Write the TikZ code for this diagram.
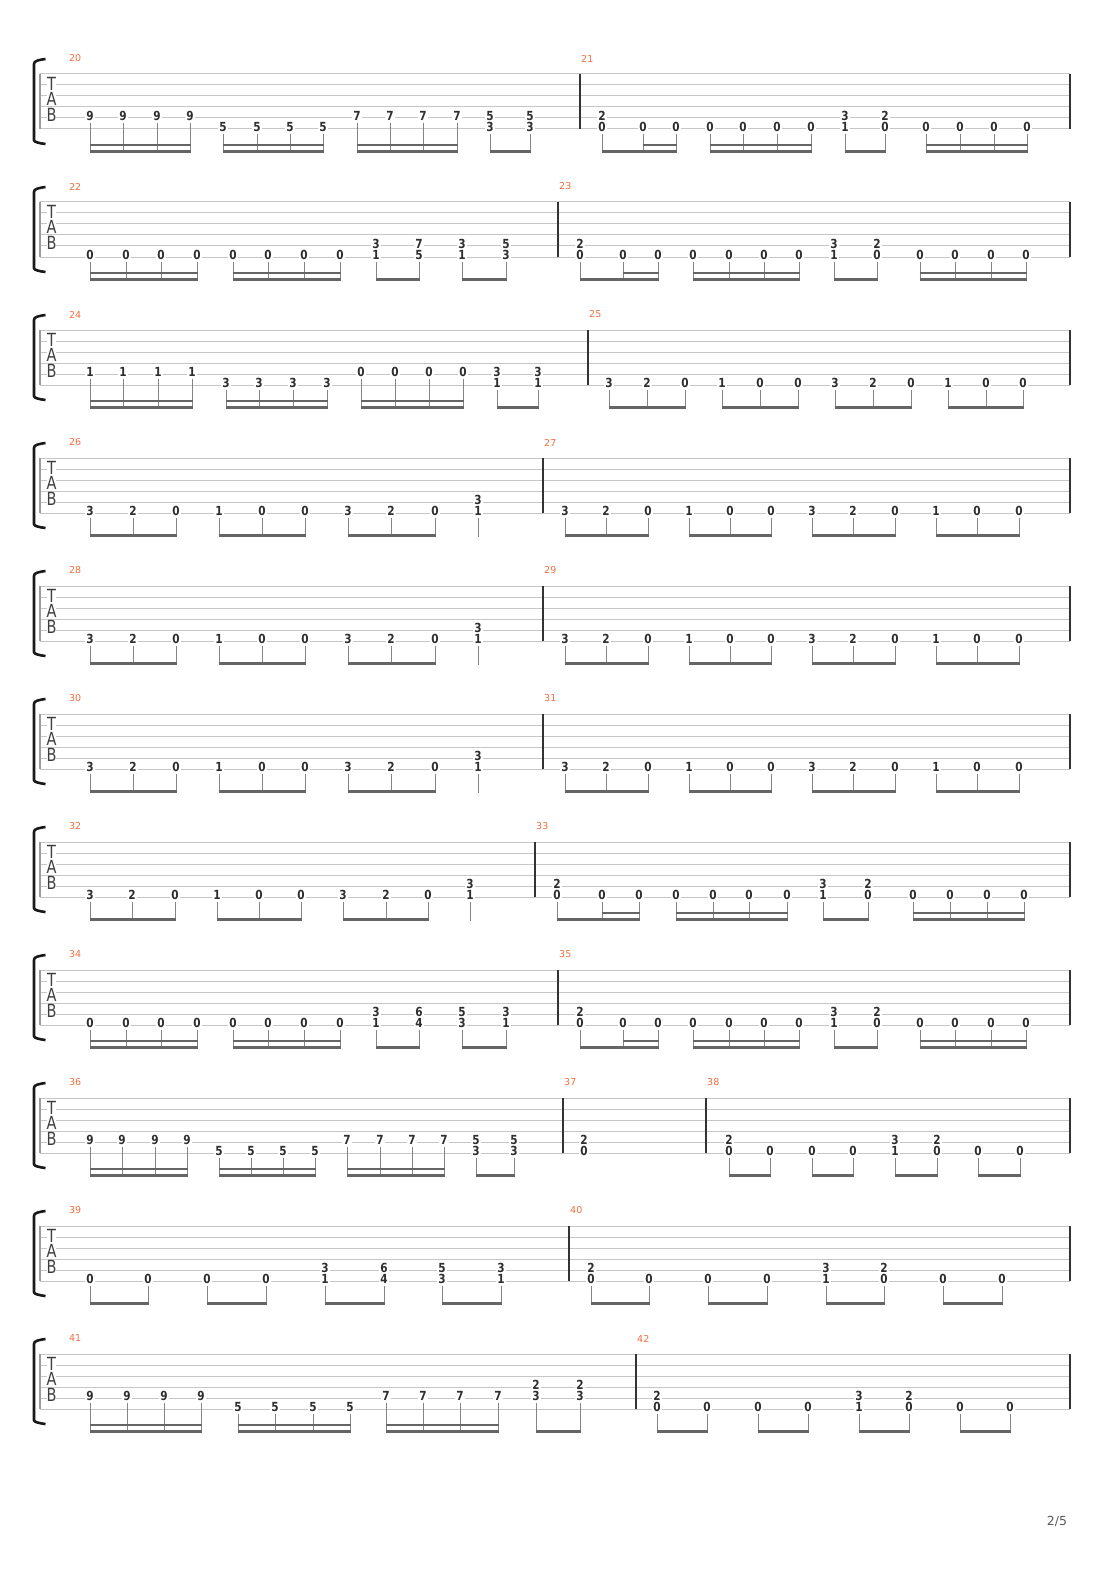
\documentclass[tikz,border=0pt]{standalone}
\usepackage{fontspec}
\usepackage{graphicx}
\usepackage{tikz}
\newfontfamily\tabsans{DejaVu Sans}
\definecolor{staffgray}{HTML}{C6C6C6}
\definecolor{edgegray}{HTML}{9A9A9A}
\definecolor{barink}{HTML}{333333}
\definecolor{stemgray}{HTML}{858585}
\definecolor{beamgray}{HTML}{656565}
\definecolor{fretink}{HTML}{2E2E2E}
\definecolor{measorange}{HTML}{F07040}
\definecolor{pagegray}{HTML}{5A5A5A}
\tikzstyle{staffline} = [draw=staffgray, line width=1pt]
\tikzstyle{staffedge} = [draw=edgegray, line width=1.1pt]
\tikzstyle{barline} = [draw=barink, line width=1.3pt]
\tikzstyle{bracketline} = [draw=black!90, line width=2.6pt]
\tikzstyle{clef} = [fill=white, inner sep=0pt, text=black!75, font=\tabsans\fontsize{14.5}{14.5}\selectfont]
\tikzstyle{fretnum} = [fill=white, inner xsep=1.3pt, inner ysep=0.3pt, text=fretink, font=\tabsans\bfseries\fontsize{12.5}{12.5}\selectfont]
\tikzstyle{stemline} = [draw=stemgray, line width=1pt, shorten <=1.8pt]
\tikzstyle{beamline} = [draw=beamgray, line width=2.5pt, shorten <=-0.5pt, shorten >=-0.5pt]
\tikzstyle{measnum} = [anchor=west, inner xsep=1pt, inner ysep=0pt, text=measorange, font=\tabsans\fontsize{9.5}{9.5}\selectfont]
\tikzstyle{pagenum} = [inner sep=0pt, text=pagegray, font=\tabsans\fontsize{12.5}{12.5}\selectfont]
\newcommand{\digits}[1]{\scalebox{0.84}[1]{#1}}
\newcommand{\fretstem}[1]{\coordinate (e#1) at (#1,77.3); \draw[stemline] (f#1) -- ([yshift=-1.2pt]e#1);}
\newcommand{\fretnote}[3]{\node[fretnum] (f#1) at (#1,{11*(#2-1)-2}) {\digits{#3}}; \fretstem{#1}}
\newcommand{\fretpair}[4]{\node[fretnum] (g#1) at (#1,{11*(#2-2)-2}) {\digits{#3}}; \node[fretnum] (f#1) at (#1,{11*(#2-1)-2}) {\digits{#4}};}
\newcommand{\fretchord}[4]{\fretpair{#1}{#2}{#3}{#4}\fretstem{#1}}
\newcommand{\beamA}[2]{\draw[beamline] (e#1) -- (e#2);}
\newcommand{\beamB}[2]{\draw[beamline] ([yshift=6.3pt]e#1) -- ([yshift=6.3pt]e#2);}
\newcommand{\barat}[2]{\draw[barline] (#1,0) -- (#1,55); \node[measnum] (m#2) at (#1,-15.5) {#2};}
\newcommand{\tabstaff}{%
	\foreach \s in {0,...,5} {\draw[staffline] (40,11*\s) -- (1070,11*\s);}
	\draw[staffedge] (40,0) -- (40,55);
	\draw[barline] (1070,0) -- (1070,55);
	\node[clef] (clefT) at (51.5,9.5) {\scalebox{1}[1.25]{T}};
	\node[clef] (clefA) at (51.5,24.5) {\scalebox{1}[1.25]{A}};
	\node[clef] (clefB) at (51.5,40.5) {\scalebox{1}[1.25]{B}};
	\draw[bracketline] (45.5,-15) .. controls (38,-14) and (34,-13) .. (34,-10) -- (34,66) .. controls (34,68) and (38,69) .. (45.5,70);}
\begin{document}
\begin{tikzpicture}[x=1pt,y=-1pt]
	\fill[white] (0,0) rectangle (1110,1570);
	\useasboundingbox (0,0) rectangle (1110,1570);
	\begin{scope}[shift={(0,74)}]
		\tabstaff
		\node[measnum] (m20) at (68,-15.5) {20};
		\foreach \x in {90,123,157,190} {\fretnote{\x}{5}{9}}
		\beamA{90}{190} \beamB{90}{190}
		\foreach \x in {223,257,290,323} {\fretnote{\x}{6}{5}}
		\beamA{223}{323} \beamB{223}{323}
		\foreach \x in {357,390,423,457} {\fretnote{\x}{5}{7}}
		\beamA{357}{457} \beamB{357}{457}
		\fretchord{490}{6}{5}{3} \fretchord{530}{6}{5}{3} \beamA{490}{530}
		\barat{580}{21}
		\fretchord{602}{6}{2}{0} \fretnote{643}{6}{0} \fretnote{676}{6}{0}
		\beamA{602}{676} \beamB{643}{676}
		\foreach \x in {710,743,777,811} {\fretnote{\x}{6}{0}}
		\beamA{710}{811} \beamB{710}{811}
		\fretchord{845}{6}{3}{1} \fretchord{885}{6}{2}{0} \beamA{845}{885}
		\foreach \x in {926,960,994,1027} {\fretnote{\x}{6}{0}}
		\beamA{926}{1027} \beamB{926}{1027}
	\end{scope}
	\foreach \sys/\ma/\mb/\ua/\la/\ub/\lb/\uc/\lc/\ud/\ld in {1/22/23/3/1/7/5/3/1/5/3,7/34/35/3/1/6/4/5/3/3/1} {
	\begin{scope}[shift={(0,74+128*\sys)}]
		\tabstaff
		\node[measnum] (m\ma) at (68,-15.5) {\ma};
		\foreach \x in {90,126,161,197} {\fretnote{\x}{6}{0}}
		\beamA{90}{197} \beamB{90}{197}
		\foreach \x in {233,268,304,340} {\fretnote{\x}{6}{0}}
		\beamA{233}{340} \beamB{233}{340}
		\fretchord{376}{6}{\ua}{\la} \fretchord{419}{6}{\ub}{\lb} \beamA{376}{419}
		\fretchord{462}{6}{\uc}{\lc} \fretchord{506}{6}{\ud}{\ld} \beamA{462}{506}
		\barat{558}{\mb}
		\fretchord{580}{6}{2}{0} \fretnote{623}{6}{0} \fretnote{658}{6}{0}
		\beamA{580}{658} \beamB{623}{658}
		\foreach \x in {693,729,764,799} {\fretnote{\x}{6}{0}}
		\beamA{693}{799} \beamB{693}{799}
		\fretchord{834}{6}{3}{1} \fretchord{877}{6}{2}{0} \beamA{834}{877}
		\foreach \x in {920,955,991,1026} {\fretnote{\x}{6}{0}}
		\beamA{920}{1026} \beamB{920}{1026}
	\end{scope}}
	\begin{scope}[shift={(0,330)}]
		\tabstaff
		\node[measnum] (m24) at (68,-15.5) {24};
		\foreach \x in {90,123,158,192} {\fretnote{\x}{5}{1}}
		\beamA{90}{192} \beamB{90}{192}
		\foreach \x in {226,259,293,327} {\fretnote{\x}{6}{3}}
		\beamA{226}{327} \beamB{226}{327}
		\foreach \x in {361,395,429,463} {\fretnote{\x}{5}{0}}
		\beamA{361}{463} \beamB{361}{463}
		\fretchord{497}{6}{3}{1} \fretchord{538}{6}{3}{1} \beamA{497}{538}
		\barat{588}{25}
		\foreach \x/\f in {609/3,647/2,685/0,722/1,760/0,798/0,835/3,873/2,911/0,948/1,986/0,1023/0} {\fretnote{\x}{6}{\f}}
		\beamA{609}{685} \beamA{722}{798} \beamA{835}{911} \beamA{948}{1023}
	\end{scope}
	\foreach \sys/\ma/\mb in {3/26/27,4/28/29,5/30/31} {
	\begin{scope}[shift={(0,74+128*\sys)}]
		\tabstaff
		\node[measnum] (m\ma) at (68,-15.5) {\ma};
		\foreach \x/\f in {90/3,133/2,176/0,219/1,262/0,305/0,348/3,391/2,435/0} {\fretnote{\x}{6}{\f}}
		\beamA{90}{176} \beamA{219}{305} \beamA{348}{435}
		\fretchord{478}{6}{3}{1}
		\barat{543}{\mb}
		\foreach \x/\f in {565/3,606/2,648/0,689/1,730/0,771/0,812/3,853/2,895/0,936/1,977/0,1019/0} {\fretnote{\x}{6}{\f}}
		\beamA{565}{648} \beamA{689}{771} \beamA{812}{895} \beamA{936}{1019}
	\end{scope}}
	\begin{scope}[shift={(0,842)}]
		\tabstaff
		\node[measnum] (m32) at (68,-15.5) {32};
		\foreach \x/\f in {90/3,132/2,175/0,217/1,259/0,301/0,343/3,386/2,428/0} {\fretnote{\x}{6}{\f}}
		\beamA{90}{175} \beamA{217}{301} \beamA{343}{428}
		\fretchord{470}{6}{3}{1}
		\barat{535}{33}
		\fretchord{557}{6}{2}{0} \fretnote{602}{6}{0} \fretnote{639}{6}{0}
		\beamA{557}{639} \beamB{602}{639}
		\foreach \x in {676,713,749,787} {\fretnote{\x}{6}{0}}
		\beamA{676}{787} \beamB{676}{787}
		\fretchord{823}{6}{3}{1} \fretchord{868}{6}{2}{0} \beamA{823}{868}
		\foreach \x in {913,950,987,1024} {\fretnote{\x}{6}{0}}
		\beamA{913}{1024} \beamB{913}{1024}
	\end{scope}
	\begin{scope}[shift={(0,1098)}]
		\tabstaff
		\node[measnum] (m36) at (68,-15.5) {36};
		\foreach \x in {90,122,155,187} {\fretnote{\x}{5}{9}}
		\beamA{90}{187} \beamB{90}{187}
		\foreach \x in {219,251,283,315} {\fretnote{\x}{6}{5}}
		\beamA{219}{315} \beamB{219}{315}
		\foreach \x in {347,380,412,444} {\fretnote{\x}{5}{7}}
		\beamA{347}{444} \beamB{347}{444}
		\fretchord{476}{6}{5}{3} \fretchord{514}{6}{5}{3} \beamA{476}{514}
		\barat{563}{37}
		\fretpair{584}{6}{2}{0}
		\barat{706}{38}
		\fretchord{729}{6}{2}{0} \fretnote{770}{6}{0} \beamA{729}{770}
		\fretnote{812}{6}{0} \fretnote{853}{6}{0} \beamA{812}{853}
		\fretchord{895}{6}{3}{1} \fretchord{937}{6}{2}{0} \beamA{895}{937}
		\fretnote{978}{6}{0} \fretnote{1020}{6}{0} \beamA{978}{1020}
	\end{scope}
	\begin{scope}[shift={(0,1226)}]
		\tabstaff
		\node[measnum] (m39) at (68,-15.5) {39};
		\fretnote{90}{6}{0} \fretnote{148}{6}{0} \beamA{90}{148}
		\fretnote{207}{6}{0} \fretnote{266}{6}{0} \beamA{207}{266}
		\fretchord{325}{6}{3}{1} \fretchord{384}{6}{6}{4} \beamA{325}{384}
		\fretchord{442}{6}{5}{3} \fretchord{501}{6}{3}{1} \beamA{442}{501}
		\barat{569}{40}
		\fretchord{591}{6}{2}{0} \fretnote{649}{6}{0} \beamA{591}{649}
		\fretnote{708}{6}{0} \fretnote{767}{6}{0} \beamA{708}{767}
		\fretchord{826}{6}{3}{1} \fretchord{884}{6}{2}{0} \beamA{826}{884}
		\fretnote{943}{6}{0} \fretnote{1002}{6}{0} \beamA{943}{1002}
	\end{scope}
	\begin{scope}[shift={(0,1354)}]
		\tabstaff
		\node[measnum] (m41) at (68,-15.5) {41};
		\foreach \x in {90,127,164,201} {\fretnote{\x}{5}{9}}
		\beamA{90}{201} \beamB{90}{201}
		\foreach \x in {238,275,313,350} {\fretnote{\x}{6}{5}}
		\beamA{238}{350} \beamB{238}{350}
		\foreach \x in {386,423,460,498} {\fretnote{\x}{5}{7}}
		\beamA{386}{498} \beamB{386}{498}
		\fretchord{536}{5}{2}{3} \fretchord{580}{5}{2}{3} \beamA{536}{580}
		\barat{636}{42}
		\fretchord{657}{6}{2}{0} \fretnote{707}{6}{0} \beamA{657}{707}
		\fretnote{758}{6}{0} \fretnote{808}{6}{0} \beamA{758}{808}
		\fretchord{859}{6}{3}{1} \fretchord{909}{6}{2}{0} \beamA{859}{909}
		\fretnote{960}{6}{0} \fretnote{1010}{6}{0} \beamA{960}{1010}
	\end{scope}
	\node[pagenum] (page) at (1057,1521.5) {2/5};
\end{tikzpicture}
\end{document}
